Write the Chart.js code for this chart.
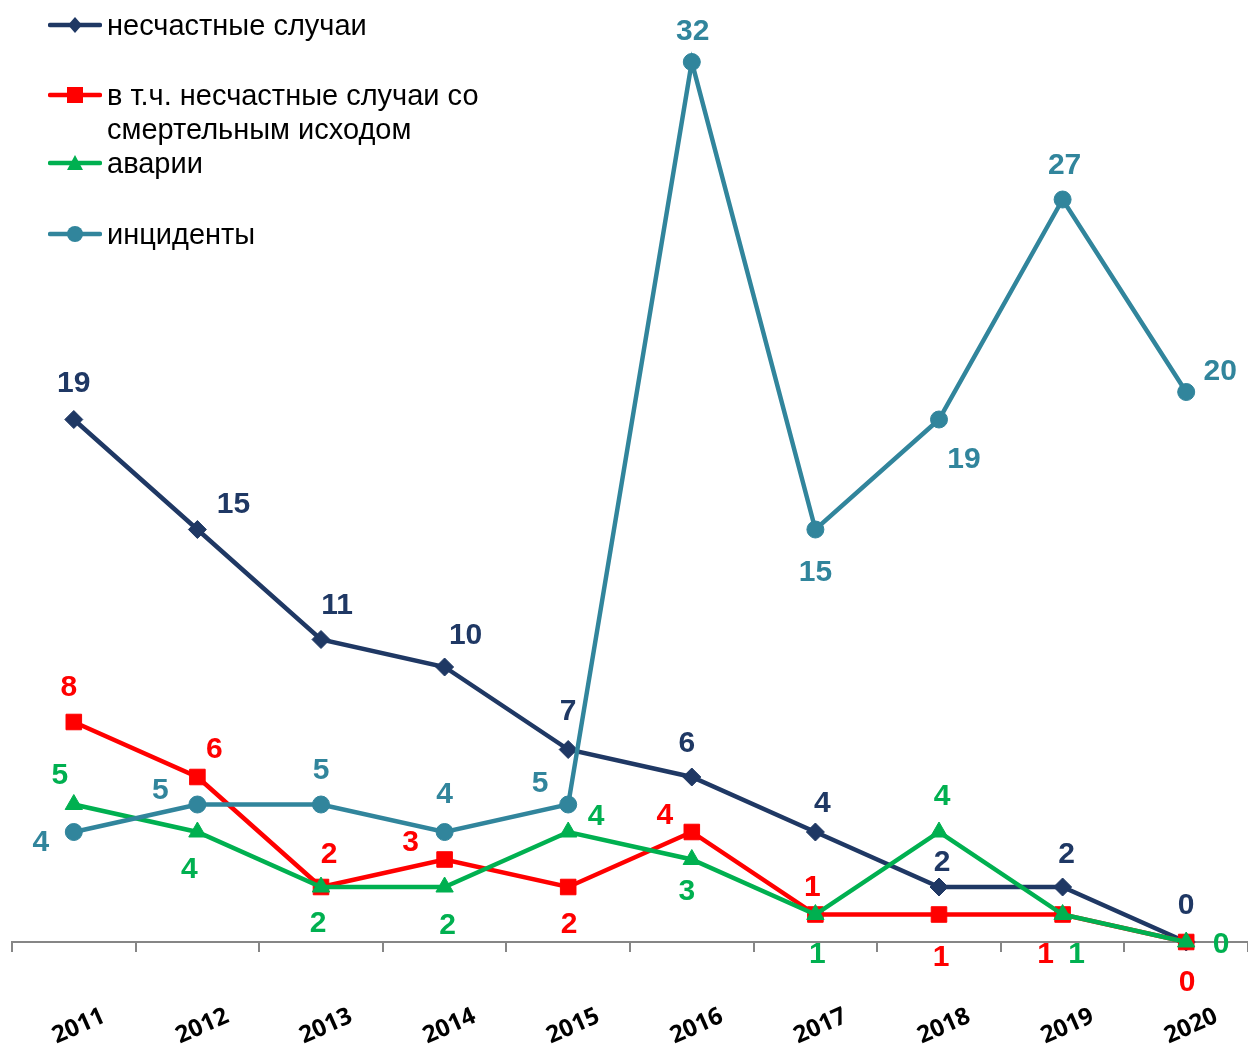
<!DOCTYPE html>
<html>
<head>
<meta charset="utf-8">
<script src="https://cdn.jsdelivr.net/npm/chart.js@4"></script>
<style>
  body { margin: 0; background: #fff; }
  #wrap { position: relative; width: 1248px; height: 1045px; }
  #legend { position: absolute; left: 48px; top: 0; font-family: "Liberation Sans", Arial, sans-serif; font-size: 29px; color: #000; }
  .item { position: absolute; left: 0; display: flex; align-items: flex-start; white-space: nowrap; line-height: 34px; }
  .item svg { flex: none; margin-top: 8px; }
  .item span { margin-left: 5px; }
</style>
</head>
<body>
<div id="wrap">
  <canvas id="chart" width="1248" height="1045"></canvas>
  <div id="legend"></div>
</div>
<script>
// data
const years = ['2011', '2012', '2013', '2014', '2015', '2016', '2017', '2018', '2019', '2020'];
const accidents = [19, 15, 11, 10, 7, 6, 4, 2, 2, 0];
const fatal = [8, 6, 2, 3, 2, 4, 1, 1, 1, 0];
const failures = [5, 4, 2, 2, 4, 3, 1, 4, 1, 0];
const incidents = [4, 5, 5, 4, 5, 32, 15, 19, 27, 20];

const navy = '#1F3864';
const red = '#FF0000';
const green = '#00B050';
const teal = '#31859C';

// where each value label sits, relative to its point
const labelShift = [
  [[0,-36],[36,-25],[16,-34],[21,-31],[0,-38],[-5,-33],[7,-28],[3,-24],[4,-32],[0,-36]],
  [[-5,-34],[17,-27],[8,-32],[-34,-17],[1,38],[-27,-16],[-3,-27],[2,43],[-17,40],[1,41]],
  [[-14,-29],[-8,38],[-3,37],[3,39],[28,-15],[-5,32],[2,40],[3,-35],[14,40],[35,3]],
  [[-33,11],[-37,-14],[0,-34],[0,-37],[-28,-21],[1,-30],[0,43],[25,40],[2,-34],[34,-20]]
];

const valueLabels = {
  id: 'valueLabels',
  afterDatasetsDraw(chart) {
    const ctx = chart.ctx;
    ctx.save();
    ctx.font = 'bold 30px "Liberation Sans", Arial, sans-serif';
    ctx.textAlign = 'center';
    ctx.textBaseline = 'middle';
    chart.data.datasets.forEach((ds, di) => {
      const meta = chart.getDatasetMeta(di);
      ctx.fillStyle = ds.borderColor;
      meta.data.forEach((pt, i) => {
        const s = labelShift[di][i];
        ctx.fillText(String(ds.data[i]), pt.x + s[0], pt.y + s[1]);
      });
    });
    ctx.restore();
  }
};

function series(label, data, color, style, radius, order) {
  return {
    label: label,
    data: data,
    borderColor: color,
    backgroundColor: color,
    borderWidth: 4.5,
    pointStyle: style,
    pointRadius: radius,
    pointBorderWidth: 1,
    pointBorderColor: color,
    tension: 0,
    clip: false,
    order: order
  };
}

const chart = new Chart(document.getElementById('chart'), {
  type: 'line',
  data: {
    labels: years,
    datasets: [
      series('несчастные случаи', accidents, navy, 'rectRot', 9, 4),
      series('в т.ч. несчастные случаи со смертельным исходом', fatal, red, 'rect', 11, 3),
      series('аварии', failures, green, 'triangle', 10, 2),
      series('инциденты', incidents, teal, 'circle', 8.5, 1)
    ]
  },
  options: {
    responsive: false,
    animation: false,
    layout: { autoPadding: false, padding: { left: 12, top: 7, right: 0, bottom: 0 } },
    plugins: { legend: { display: false }, tooltip: { enabled: false } },
    scales: {
      x: {
        offset: true,
        grid: { display: true, drawOnChartArea: false, tickLength: 10, color: '#868686', lineWidth: 2, offset: true },
        border: { display: true, color: '#868686', width: 2 },
        ticks: {
          minRotation: 24,
          maxRotation: 24,
          autoSkip: false,
          labelOffset: 30,
          padding: 50,
          color: '#000',
          font: { family: '"Open Sans", sans-serif', size: 24, weight: 'bold' }
        },
        afterFit(scale) {
          scale.height = 103;
          scale.paddingLeft = 0;
          scale.paddingRight = 0;
        }
      },
      y: {
        display: false,
        min: 0,
        max: 34
      }
    }
  },
  plugins: [valueLabels]
});

// legend drawn over the chart, top left
const legendRows = [
  { text: 'несчастные случаи', color: navy, shape: 'diamond', top: 8 },
  { text: 'в т.ч. несчастные случаи со<br>смертельным исходом', color: red, shape: 'square', top: 78 },
  { text: 'аварии', color: green, shape: 'triangle', top: 146 },
  { text: 'инциденты', color: teal, shape: 'circle', top: 217 }
];

function markerSvg(shape, color) {
  let m = '';
  if (shape === 'diamond') m = `<polygon points="27,1 34,9 27,17 20,9" fill="${color}"/>`;
  if (shape === 'square') m = `<rect x="19" y="1" width="16" height="16" fill="${color}"/>`;
  if (shape === 'triangle') m = `<polygon points="27,1 35,16 19,16" fill="${color}"/>`;
  if (shape === 'circle') m = `<circle cx="27" cy="9" r="8" fill="${color}"/>`;
  return `<svg width="54" height="18"><line x1="2" y1="9" x2="52" y2="9" stroke="${color}" stroke-width="4.5" stroke-linecap="round"/>${m}</svg>`;
}

const legendEl = document.getElementById('legend');
legendRows.forEach(r => {
  const div = document.createElement('div');
  div.className = 'item';
  div.style.top = r.top + 'px';
  div.innerHTML = markerSvg(r.shape, r.color) + `<span>${r.text}</span>`;
  legendEl.appendChild(div);
});
</script>
</body>
</html>
